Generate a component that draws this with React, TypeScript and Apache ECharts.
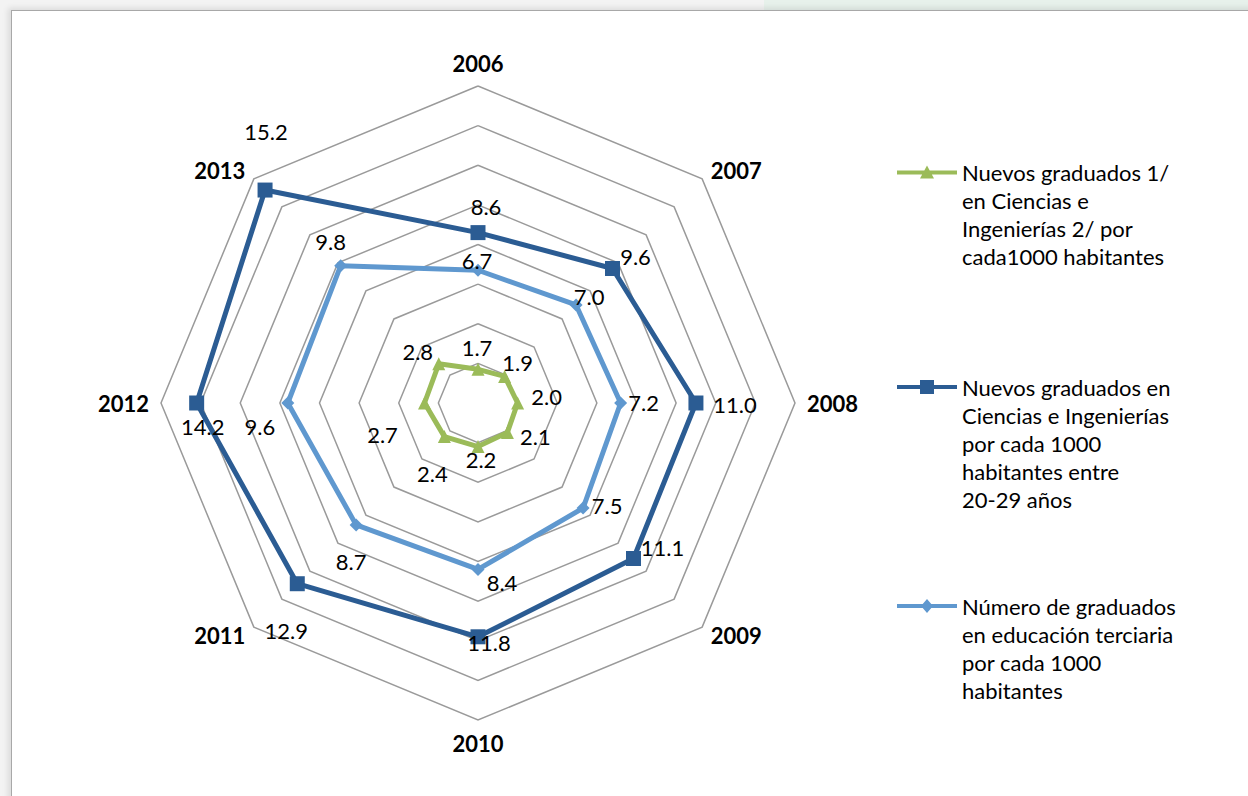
import React, { useEffect, useRef } from 'react';
import * as echarts from 'echarts';

// ---- data ----
const years = ['2006', '2007', '2008', '2009', '2010', '2011', '2012', '2013'];
const seriesNames = [
  'Nuevos graduados 1/\nen Ciencias e\nIngenierías 2/ por\ncada1000 habitantes',
  'Nuevos graduados en\nCiencias e Ingenierías\npor cada 1000\nhabitantes entre\n20-29 años',
  'Número de graduados\nen educación terciaria\npor cada 1000\nhabitantes',
];
const cienciasPorMil = [1.7, 1.9, 2.0, 2.1, 2.2, 2.4, 2.7, 2.8];
const cienciasJovenes = [8.6, 9.6, 11.0, 11.1, 11.8, 12.9, 14.2, 15.2];
const terciariaPorMil = [6.7, 7.0, 7.2, 7.5, 8.4, 8.7, 9.6, 9.8];
const axisMax = 16;
const axisSplits = 8;

// ECharts places radar indicators counter-clockwise; this order makes the years run clockwise
const displayOrder = [0, 7, 6, 5, 4, 3, 2, 1];

// ---- label layout (pixel offsets from each point, per year) ----
const offsetsGreen = [[-1, -22], [13, -14], [29, -7], [28, 4], [3, 13], [-12, 37], [-42, 31], [-21, -12]];
const offsetsDark = [[8, -26], [23, -12], [39, 1], [29, -11], [11, 6], [-11, 47], [6, 23], [1, -59]];
const offsetsLight = [[-1, -10], [13, -8], [23, -1], [24, -3], [24, 13], [-5, 37], [-28, 23], [-10, -24]];

const GREEN = '#9BBB59';
const DARK = '#2B5C93';
const LIGHT = '#5F98CF';
const FONT = 'Lato, "Open Sans", sans-serif';

const iconTri = 'path://M0,5 L60,5 L60,9 L0,9 Z M30,0 L37,13 L23,13 Z';
const iconSq = 'path://M0,5 L60,5 L60,9 L0,9 Z M23,0 L37,0 L37,14 L23,14 Z';
const iconDia = 'path://M0,5 L60,5 L60,9 L0,9 Z M30,0 L36,7 L30,14 L24,7 Z';

export default function App() {
  const ref = useRef<HTMLDivElement>(null);
  useEffect(() => {
    const el = ref.current!;
    const chart = echarts.init(el, null, { renderer: 'svg' });
    const lh = 28;
    const mkLegend = (name: string, icon: string, iconCenter: number) => {
      const n = name.split('\n').length;
      return {
        data: [name],
        orient: 'vertical',
        left: 897,
        top: iconCenter - (2 * n - 1) * (lh / 2),
        padding: 0,
        icon,
        itemWidth: 60,
        itemHeight: 14,
        selectedMode: false,
        formatter: (nm: string) => '\n'.repeat(n - 1) + nm,
        textStyle: {
          color: '#000',
          fontSize: 22,
          fontFamily: FONT,
          lineHeight: lh,
        },
      };
    };
    const ordered = (arr: number[]) => displayOrder.map((i) => arr[i]);
    const option: any = {
      animation: false,
      backgroundColor: 'transparent',
      radar: {
        center: [478, 403],
        radius: 317,
        startAngle: 90,
        splitNumber: axisSplits,
        shape: 'polygon',
        indicator: displayOrder.map((i) => ({ name: years[i], min: 0, max: axisMax })),
        axisName: { color: '#000', fontWeight: 'bold', fontSize: 22, fontFamily: FONT },
        nameGap: 12,
        axisLine: { show: false },
        axisTick: { show: false },
        axisLabel: { show: false },
        splitLine: { lineStyle: { color: '#9a9a9a', width: 1.5 } },
        splitArea: { show: false },
      },
      legend: [
        mkLegend(seriesNames[0], iconTri, 172),
        mkLegend(seriesNames[1], iconSq, 387),
        mkLegend(seriesNames[2], iconDia, 606),
      ],
      series: [
        {
          type: 'radar',
          name: seriesNames[0],
          symbol: 'triangle',
          symbolSize: 13,
          itemStyle: { color: GREEN },
          lineStyle: { color: GREEN, width: 5 },
          data: [{ name: seriesNames[0], value: ordered(cienciasPorMil) }],
        },
        {
          type: 'radar',
          name: seriesNames[1],
          symbol: 'rect',
          symbolSize: 15,
          itemStyle: { color: DARK },
          lineStyle: { color: DARK, width: 5 },
          data: [{ name: seriesNames[1], value: ordered(cienciasJovenes) }],
        },
        {
          type: 'radar',
          name: seriesNames[2],
          symbol: 'diamond',
          symbolSize: 13,
          itemStyle: { color: LIGHT },
          lineStyle: { color: LIGHT, width: 5 },
          data: [{ name: seriesNames[2], value: ordered(terciariaPorMil) }],
        },
      ],
    };
    chart.setOption(option);

    const cs = (chart as any).getModel().getComponent('radar', 0).coordinateSystem;
    const texts: any[] = [];
    const addLabels = (vals: number[], offs: number[][], key: string) => {
      vals.forEach((v, i) => {
        const p = cs.dataToPoint(v, displayOrder.indexOf(i));
        texts.push({
          type: 'text',
          id: key + i,
          x: p[0] + offs[i][0],
          y: p[1] + offs[i][1],
          z: 100,
          style: {
            text: v.toFixed(1),
            fill: '#000',
            fontSize: 22,
            fontFamily: FONT,
            align: 'center',
            verticalAlign: 'middle',
          },
        });
      });
    };
    addLabels(cienciasPorMil, offsetsGreen, 'g');
    addLabels(cienciasJovenes, offsetsDark, 'd');
    addLabels(terciariaPorMil, offsetsLight, 'l');
    chart.setOption({ graphic: { elements: texts } });

    return () => chart.dispose();
  }, []);

  return (
    <div style={{ position: 'absolute', left: 0, top: 0, width: 1248, height: 796, background: '#f3f3f3', overflow: 'hidden' }}>
      <div style={{ position: 'absolute', left: 764, top: 0, width: 484, height: 10, background: '#e7f1eb' }} />
      <div
        style={{
          position: 'absolute',
          left: 11,
          top: 10,
          width: 1300,
          height: 900,
          background: '#fff',
          borderLeft: '1.5px solid #a8a8a8',
          borderTop: '1.5px solid #a8a8a8',
          boxShadow: '-3px -2px 6px rgba(0,0,0,0.10)',
        }}
      />
      <div ref={ref} style={{ position: 'absolute', left: 0, top: 0, width: 1248, height: 796 }} />
    </div>
  );
}
